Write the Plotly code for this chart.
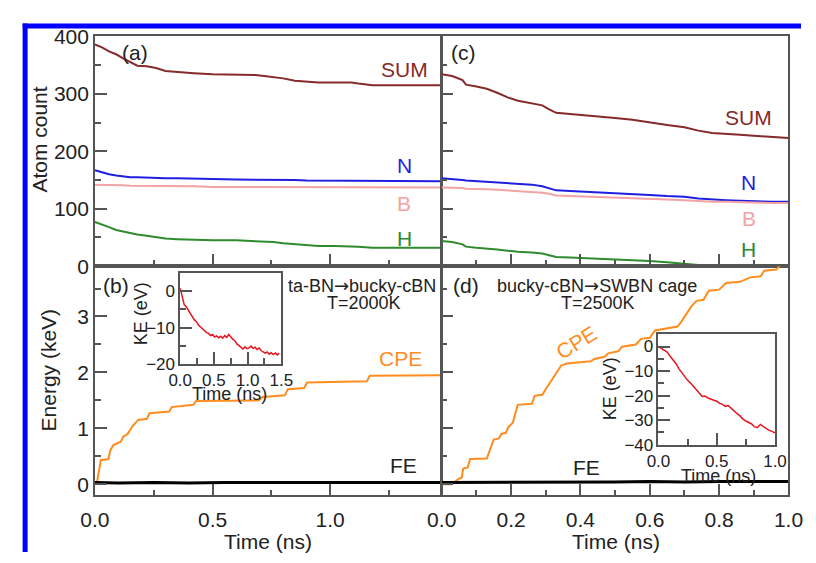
import plotly.graph_objects as go

W, H = 816, 563
FONT = "Liberation Sans, Arial, sans-serif"

# ---------------- (a) ta-BN -> bucky-cBN, atom counts ----------------
t_a = [0.00, 0.03, 0.06, 0.09, 0.12, 0.15, 0.18, 0.22, 0.26, 0.30, 0.35, 0.42, 0.50, 0.60,
       0.68, 0.72, 0.76, 0.80, 0.85, 0.90, 0.95, 1.02, 1.09, 1.12, 1.15, 1.18, 1.25, 1.35, 1.47]
sum_a = [386, 381, 374, 369, 362, 355, 349, 348, 345, 340, 338, 336, 334, 334,
         333, 331, 329, 327, 323, 321, 320, 320, 320, 318, 316, 315, 315, 315, 315]
n_a = [167, 163, 160, 158, 156, 155, 155, 154, 154, 153, 153, 152, 152, 151,
       151, 150, 150, 150, 150, 149, 149, 149, 149, 148, 148, 148, 148, 148, 148]
b_a = [142, 142, 141, 141, 141, 140, 140, 140, 139, 139, 139, 139, 138, 138,
       138, 138, 138, 137, 137, 137, 137, 137, 137, 137, 137, 137, 137, 137, 137]
h_a = [77, 73, 68, 63, 60, 57, 55, 53, 50, 48, 47, 46, 45, 45,
       44, 43, 42, 40, 38, 36, 35, 35, 35, 34, 33, 32, 32, 32, 32]

# ---------------- (c) bucky-cBN -> SWBN cage, atom counts ----------------
t_c = [0.00, 0.03, 0.06, 0.07, 0.10, 0.13, 0.16, 0.19, 0.22, 0.26, 0.29, 0.31, 0.33, 0.37,
       0.41, 0.46, 0.50, 0.55, 0.60, 0.65, 0.70, 0.74, 0.78, 0.82, 0.86, 0.90, 0.95, 1.00]
sum_c = [334, 331, 324, 316, 313, 309, 302, 294, 288, 283, 280, 273, 267, 265,
         263, 261, 258, 255, 250, 246, 242, 236, 232, 231, 229, 227, 225, 223]
n_c = [153, 152, 150, 149, 148, 147, 146, 145, 144, 142, 139, 136, 132, 131,
       130, 128, 127, 126, 124, 122, 121, 118, 116, 115, 114, 113, 112, 112]
b_c = [137, 137, 136, 135, 135, 134, 133, 132, 131, 130, 128, 126, 123, 122,
       121, 120, 119, 118, 117, 116, 115, 113, 112, 112, 111, 111, 110, 110]
h_c = [44, 42, 38, 34, 32, 31, 29, 27, 25, 24, 22, 19, 16, 15,
       14, 13, 12, 11, 9, 7, 4, 2, 1, 1, 1, 1, 1, 1]

# ---------------- (b) energies, T=2000K ----------------
t_cpe_b = [0.000, 0.008, 0.025, 0.057, 0.065, 0.078, 0.110, 0.120, 0.139, 0.160, 0.184, 0.221, 0.232,
           0.316, 0.326, 0.418, 0.430, 0.697, 0.713, 0.807, 0.820, 0.889, 0.902, 1.156, 1.168, 1.470]
cpe_b = [0.00, 0.02, 0.43, 0.45, 0.60, 0.70, 0.76, 0.85, 0.90, 1.04, 1.15, 1.17, 1.27,
         1.30, 1.38, 1.42, 1.49, 1.50, 1.56, 1.59, 1.70, 1.72, 1.82, 1.84, 1.94, 1.95]
t_fe_b = [0.00, 0.10, 0.25, 0.40, 0.55, 0.70, 0.85, 1.00, 1.15, 1.30, 1.47]
fe_b = [0.03, 0.02, 0.03, 0.02, 0.03, 0.03, 0.02, 0.03, 0.03, 0.02, 0.03]

# ---------------- (d) energies, T=2500K ----------------
t_cpe_d = [0.000, 0.028, 0.050, 0.058, 0.062, 0.075, 0.082, 0.130, 0.150, 0.165, 0.172, 0.185, 0.192,
           0.205, 0.219, 0.260, 0.268, 0.290, 0.300, 0.320, 0.344, 0.360, 0.400, 0.430, 0.440, 0.470,
           0.480, 0.510, 0.520, 0.560, 0.575, 0.600, 0.615, 0.640, 0.680, 0.690, 0.700, 0.720, 0.735,
           0.755, 0.770, 0.800, 0.820, 0.860, 0.890, 0.920, 0.930, 0.965, 0.980, 1.000]
cpe_d = [0.00, 0.00, 0.10, 0.12, 0.28, 0.30, 0.45, 0.46, 0.80, 0.82, 0.90, 0.92, 1.02,
         1.10, 1.42, 1.44, 1.58, 1.60, 1.70, 1.90, 2.12, 2.16, 2.18, 2.20, 2.24, 2.28,
         2.34, 2.38, 2.46, 2.50, 2.60, 2.62, 2.75, 2.78, 2.82, 2.90, 3.00, 3.18, 3.28,
         3.30, 3.46, 3.48, 3.60, 3.62, 3.70, 3.72, 3.82, 3.84, 3.95, 4.00]
t_fe_d = [0.00, 0.10, 0.20, 0.30, 0.40, 0.50, 0.60, 0.70, 0.80, 0.90, 1.00]
fe_d = [0.03, 0.03, 0.04, 0.03, 0.04, 0.04, 0.05, 0.04, 0.05, 0.05, 0.05]

# ---------------- insets: kinetic energy change ----------------
t_ke_b = [0.00, 0.03, 0.06, 0.09, 0.12, 0.15, 0.18, 0.21, 0.24, 0.27,
          0.30, 0.33, 0.36, 0.39, 0.42, 0.45, 0.48, 0.51, 0.54, 0.57,
          0.60, 0.63, 0.66, 0.69, 0.72, 0.75, 0.78, 0.81, 0.84, 0.87,
          0.90, 0.93, 0.96, 0.99, 1.02, 1.05, 1.08, 1.11, 1.14, 1.17,
          1.20, 1.23, 1.26, 1.29, 1.32, 1.35, 1.38, 1.41, 1.44, 1.47]
ke_b = [0.8, -2.0, -3.8, -4.3, -5.2, -6.3, -7.2, -7.9, -8.4, -9.3,
        -9.8, -10.3, -10.9, -11.4, -11.6, -12.2, -11.9, -12.6, -12.3, -12.8,
        -12.4, -12.9, -12.2, -12.7, -11.9, -12.6, -13.2, -13.6, -14.5, -14.9,
        -15.4, -15.9, -15.3, -15.8, -15.6, -15.1, -15.7, -15.4, -16.0, -15.6,
        -16.3, -16.6, -17.0, -16.7, -17.3, -16.9, -17.4, -17.0, -17.5, -17.0]

t_ke_d = [0.000, 0.025, 0.050, 0.075, 0.100, 0.125, 0.150, 0.175, 0.200, 0.225,
          0.250, 0.275, 0.300, 0.325, 0.350, 0.375, 0.400, 0.425, 0.450, 0.475,
          0.500, 0.525, 0.550, 0.575, 0.600, 0.625, 0.650, 0.675, 0.700, 0.725,
          0.750, 0.775, 0.800, 0.825, 0.850, 0.875, 0.900, 0.925, 0.950, 0.975, 1.000]
ke_d = [0.0, -0.8, -1.5, -2.3, -4.0, -5.5, -6.9, -9.0, -10.6, -12.4,
        -13.8, -14.9, -16.2, -17.3, -19.0, -20.4, -20.2, -21.0, -21.3, -21.9,
        -22.3, -23.2, -23.6, -24.4, -24.1, -25.3, -26.6, -27.4, -28.3, -29.6,
        -30.4, -30.9, -31.6, -32.8, -33.0, -31.8, -32.6, -33.6, -34.2, -34.6, -35.2]

C_SUM, C_N, C_B, C_H = "#862a2a", "#1f1fe0", "#f3a3a3", "#2e8b2e"
C_CPE, C_FE, C_KE = "#ff8c1e", "#000000", "#e8141e"


def px(x, y):
    """Convert pixel position to paper coordinates."""
    return x / W, 1 - y / H


fig = go.Figure()


def line(x, y, xa, ya, color, width=2.0):
    fig.add_trace(go.Scatter(x=x, y=y, xaxis=xa, yaxis=ya, mode="lines",
                             line=dict(color=color, width=width), showlegend=False,
                             hoverinfo="skip"))


line(t_a, sum_a, "x", "y", C_SUM)
line(t_a, n_a, "x", "y", C_N)
line(t_a, b_a, "x", "y", C_B)
line(t_a, h_a, "x", "y", C_H)
line(t_c, sum_c, "x2", "y2", C_SUM)
line(t_c, n_c, "x2", "y2", C_N)
line(t_c, b_c, "x2", "y2", C_B)
line(t_c, h_c, "x2", "y2", C_H)
line(t_cpe_b, cpe_b, "x3", "y3", C_CPE)
line(t_fe_b, fe_b, "x3", "y3", C_FE, 3)
line(t_cpe_d, cpe_d, "x4", "y4", C_CPE)
line(t_fe_d, fe_d, "x4", "y4", C_FE, 3)
line(t_ke_b, ke_b, "x5", "y5", C_KE, 1.5)
line(t_ke_d, ke_d, "x6", "y6", C_KE, 1.5)

AX = "#555555"


def axis(x0, x1, rng, dtick, mdtick, labels, anchor, fmt=None, fs=21, horizontal=True,
         y0=None, y1=None, standoff=0):
    if horizontal:
        dom = [x0 / W, x1 / W]
    else:
        dom = [1 - y1 / H, 1 - y0 / H]
    return dict(domain=dom, range=rng, anchor=anchor, showline=True, linecolor=AX,
                linewidth=1.5, mirror=True, ticks="inside", ticklen=12, tickwidth=1.5,
                tickcolor=AX, tick0=0, dtick=dtick, showticklabels=labels,
                tickformat=fmt, tickfont=dict(size=fs, color="#222222", family=FONT),
                ticklabelstandoff=standoff,
                showgrid=False, zeroline=False,
                minor=dict(ticks="inside", ticklen=6, tickwidth=1.5, tickcolor=AX,
                           dtick=mdtick, showgrid=False))


LX0, LX1, RX0, RX1 = 83, 442, 443, 803
TY0, TY1, BY0, BY1 = 25.5, 265, 265, 504

fig.update_layout(
    width=W, height=H, margin=dict(l=0, r=0, t=0, b=0),
    paper_bgcolor="white", plot_bgcolor="rgba(0,0,0,0)",
    font=dict(family=FONT, color="#222222"),
    xaxis=axis(LX0, LX1, [0, 1.47], 0.5, 0.25, False, "y"),
    yaxis=axis(0, 0, [0, 400], 100, 50, True, "x", horizontal=False, y0=TY0, y1=TY1),
    xaxis2=axis(RX0, RX1, [0, 1.0], 0.2, 0.1, False, "y2"),
    yaxis2=axis(0, 0, [0, 400], 100, 50, False, "x2", horizontal=False, y0=TY0, y1=TY1),
    xaxis3=axis(LX0, LX1, [0, 1.47], 0.5, 0.25, True, "y3", fmt=".1f", standoff=5),
    yaxis3=axis(0, 0, [-0.2, 3.9], 1, 0.5, True, "x3", horizontal=False, y0=BY0, y1=BY1),
    xaxis4=axis(RX0, RX1, [0, 1.0], 0.2, 0.1, True, "y4", fmt=".1f", standoff=5),
    yaxis4=axis(0, 0, [-0.2, 3.9], 1, 0.5, False, "x4", horizontal=False, y0=BY0, y1=BY1),
    xaxis5=axis(171.5, 276.5, [0, 1.5], 0.5, 0.25, True, "y5", fmt=".1f", fs=17),
    yaxis5=axis(0, 0, [-20, 5], 10, 5, True, "x5", fs=17, horizontal=False, y0=272, y1=367),
    xaxis6=axis(668, 789, [0, 1.0], 0.5, 0.25, True, "y6", fmt=".1f", fs=17),
    yaxis6=axis(0, 0, [-40, 5], 10, 5, True, "x6", fs=17, horizontal=False, y0=336, y1=451),
)


def label(text, x, y, color="#222222", size=20, angle=0):
    ax_, ay_ = px(x, y)
    fig.add_annotation(text=text, x=ax_, y=ay_, xref="paper", yref="paper",
                       xanchor="center", yanchor="middle", showarrow=False,
                       textangle=angle, font=dict(size=size, color=color, family=FONT))


ARROW = '<span style="font-family:DejaVu Sans">→</span>'

# panel letters and curve labels
label("(a)", 125, 42, size=21)
label("SUM", 404, 60, C_SUM, 21)
label("N", 404, 160, C_N, 21)
label("B", 404, 200, C_B, 21)
label("H", 404, 236, C_H, 21)
label("(c)", 466, 42, size=21)
label("SUM", 762, 110, C_SUM, 21)
label("N", 762, 178, C_N, 21)
label("B", 762, 215, C_B, 21)
label("H", 762, 248, C_H, 21)
label("(b)", 105, 285, size=21)
label("ta-BN" + ARROW + "bucky-cBN", 360, 285, size=18)
label("T=2000K", 362, 303, size=18)
label("CPE", 400, 361, C_CPE, 21)
label("FE", 403, 473, size=21)
label("(d)", 468, 285, size=21)
label("bucky-cBN" + ARROW + "SWBN cage", 604, 285, size=18)
label("T=2500K", 605, 303, size=18)
label("CPE", 583, 345, C_CPE, 21, angle=-32)
label("FE", 593, 475, size=21)

# axis titles
label("Atom count", 26, 133, size=21, angle=-90)
label("Energy (keV)", 35, 373, size=21, angle=-90)
label("Time (ns)", 263, 552, size=21)
label("Time (ns)", 624, 552, size=21)
label("KE (eV)", 131, 315, size=18, angle=-90)
label("Time (ns)", 223, 398, size=18)
label("KE (eV)", 618, 393, size=18, angle=-90)
label("Time (ns)", 730, 484, size=18)

# blue frame along the top and left edges
fx0, fy0 = px(8, 14.5)
fx1, _ = px(816, 14.5)
fig.add_shape(type="line", xref="paper", yref="paper", x0=fx0, x1=fx1, y0=fy0, y1=fy0,
              line=dict(color="#0000ff", width=5))
lx, ly0 = px(10.5, 12)
_, ly1 = px(10.5, 563)
fig.add_shape(type="line", xref="paper", yref="paper", x0=lx, x1=lx, y0=ly0, y1=ly1,
              line=dict(color="#0000ff", width=5))

fig.write_html("out.html")
